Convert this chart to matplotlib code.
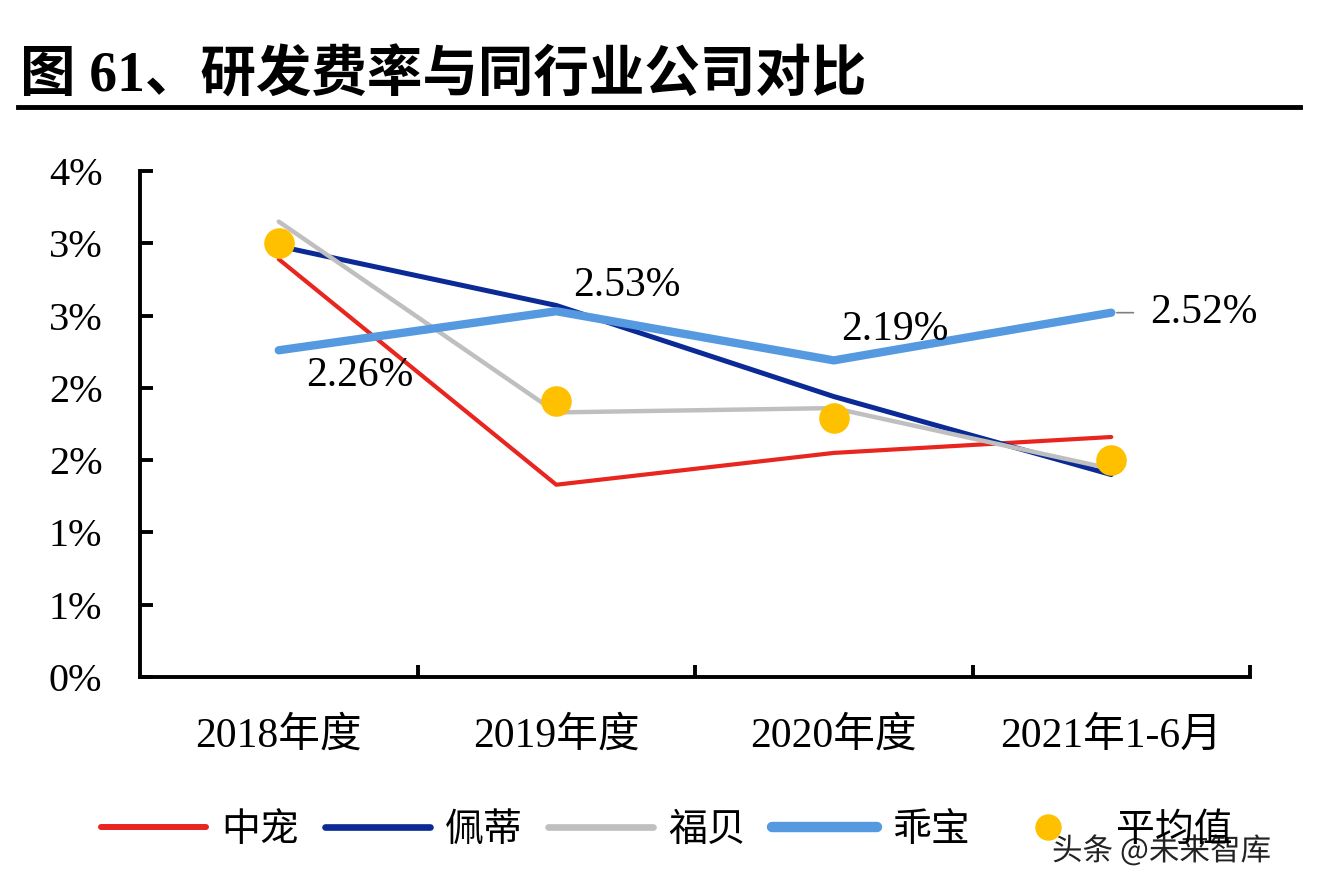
import matplotlib.pyplot as plt
import matplotlib.patheffects as pe
from matplotlib.ticker import FixedLocator

plt.rcParams['font.family'] = ['Liberation Serif', 'Noto Sans CJK SC', 'DejaVu Sans']

# data (percent)
periods = ['2018年度', '2019年度', '2020年度', '2021年1-6月']
zhongchong = [2.89, 1.33, 1.55, 1.66]
peidi = [2.98, 2.57, 1.94, 1.40]
fubei = [3.15, 1.83, 1.86, 1.44]
guaibao = [2.26, 2.53, 2.19, 2.52]
average = [3.00, 1.91, 1.79, 1.50]
guaibao_labels = ['2.26%', '2.53%', '2.19%', '2.52%']
y_ticks = [0, 0.5, 1.0, 1.5, 2.0, 2.5, 3.0, 3.5]
y_tick_labels = ['0%', '1%', '1%', '2%', '2%', '3%', '3%', '4%']

fig = plt.figure(figsize=(13.18, 8.92), dpi=100)
ax = fig.add_axes([140 / 1318, 1 - 677 / 892, (1250 - 140) / 1318, (677 - 171) / 892])

x = list(range(len(periods)))
l1, = ax.plot(x, zhongchong, color='#e8251f', lw=3.0, solid_capstyle='round', label='中宠', zorder=3)
l2, = ax.plot(x, peidi, color='#0b2a95', lw=3.6, solid_capstyle='round', label='佩蒂', zorder=3)
l3, = ax.plot(x, fubei, color='#bfbfbf', lw=3.2, solid_capstyle='round', label='福贝', zorder=3)
l4, = ax.plot(x, guaibao, color='#559ae0', lw=6.0, solid_capstyle='round', label='乖宝', zorder=4)
l5, = ax.plot(x, average, ls='none', marker='o', ms=21, color='#ffc000', label='平均值', zorder=5)

# data labels for 乖宝
offsets = [(20, -18), (12, 18), (5, 22), (28, 0)]
for i, (v, lab) in enumerate(zip(guaibao, guaibao_labels)):
    ax.annotate(lab, (i, v), xytext=offsets[i], textcoords='offset points',
                ha='left', va='center', fontsize=30, color='black',
                family='Liberation Serif', zorder=6)
# leader line for the last label
ax.annotate('', (3, guaibao[3]), xytext=(16, 0), textcoords='offset points',
            arrowprops=dict(arrowstyle='-', color='#808080', lw=1.2, shrinkA=0, shrinkB=4))

ax.set_xlim(-0.5, 3.5)
ax.set_ylim(0, 3.5)
ax.set_yticks(y_ticks)
ax.set_yticklabels(y_tick_labels)
ax.set_xticks(x)
ax.set_xticklabels(periods)
ax.xaxis.set_minor_locator(FixedLocator([0.5, 1.5, 2.5, 3.5]))

for side in ['top', 'right']:
    ax.spines[side].set_visible(False)
for side in ['left', 'bottom']:
    ax.spines[side].set_linewidth(2.8)

ax.tick_params(axis='y', direction='in', length=9, width=2.8, pad=27, labelsize=29)
ax.tick_params(axis='x', which='major', length=0, pad=29, labelsize=30)
ax.tick_params(axis='x', which='minor', direction='in', length=9, width=2.8)

# title and rule
fig.text(20 / 1318, 1 - 77 / 892, '图 61、研发费率与同行业公司对比', fontsize=40, fontweight='bold',
         family=['Liberation Serif', 'Noto Sans CJK SC'], ha='left', va='center')
fig.add_artist(plt.Line2D([18 / 1318, 1300 / 1318], [1 - 107 / 892, 1 - 107 / 892],
                          color='black', lw=3.5))

# legend with thicker handles, as in the reference
handles = [plt.Line2D([], [], color=l1.get_color(), lw=4.3, solid_capstyle='round'),
           plt.Line2D([], [], color=l2.get_color(), lw=4.8, solid_capstyle='round'),
           plt.Line2D([], [], color=l3.get_color(), lw=4.8, solid_capstyle='round'),
           plt.Line2D([], [], color=l4.get_color(), lw=7.5, solid_capstyle='round'),
           plt.Line2D([], [], ls='none', marker='o', ms=18, color='#ffc000')]
labels = [l.get_label() for l in (l1, l2, l3, l4, l5)]
fig.legend(handles, labels, loc='center left', bbox_to_anchor=(101 / 1318, 1 - 830 / 892),
           ncol=5, frameon=False, borderpad=0, borderaxespad=0,
           prop={'family': ['Noto Sans CJK SC'], 'size': 28},
           handlelength=2.7, handletextpad=0.4, columnspacing=0.65)

fig.text(1052 / 1318, 1 - 851 / 892, '头条 @未来智库', fontsize=22, color='#222222',
         family=['Noto Sans CJK SC'], ha='left', va='center',
         path_effects=[pe.withStroke(linewidth=3, foreground='white')])

fig.savefig('out.png', dpi=100, facecolor='white')
